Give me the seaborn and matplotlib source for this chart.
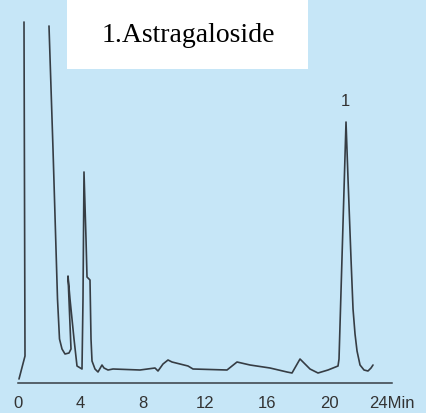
import matplotlib.pyplot as plt
import pandas as pd
import seaborn as sns
from matplotlib.patches import Rectangle

# retention time (min) and detector response (arbitrary units)
seg_a_time = [0.064, 0.449, 0.385]
seg_a_resp = [4, 27, 361]

seg_b_time = [1.989, 2.246, 2.535, 2.663, 2.824, 3.016, 3.273, 3.401, 3.209, 3.337,
              3.594, 3.786, 4.107, 4.171, 4.235, 4.364, 4.428, 4.620, 4.685, 4.749,
              4.941, 5.134, 5.390, 5.519, 5.776, 6.096, 7.829, 8.792, 8.984, 9.305,
              9.626, 9.883, 10.396, 10.909, 11.230, 13.412, 14.054, 14.888, 16.172,
              17.263, 17.583, 18.097, 18.738, 19.252, 19.894, 20.536, 20.600, 21.049,
              21.178, 21.370, 21.499, 21.627, 21.756, 21.948, 22.204, 22.460, 22.653,
              22.781]
seg_b_resp = [357, 234, 84, 44, 34, 29, 30, 34, 107, 84,
              44, 17, 14, 84, 211, 144, 106, 103, 44, 22,
              14, 11, 18, 15, 13, 14, 13, 15, 12, 19,
              23, 21, 19, 17, 14, 13, 21, 18, 15,
              11, 10, 24, 14, 10, 13, 17, 24, 261,
              204, 124, 74, 49, 32, 18, 13, 12, 15,
              18]

xticks = [0, 4, 8, 12, 16, 20, 24]
xtick_labels = ["0", "4", "8", "12", "16", "20", "24Min"]

peak_label = "1"
peak_time = 20.98
peak_label_resp = 282
legend_text = "1.Astragaloside"

bg = "#c6e6f7"
ink = "#363d44"

df = pd.concat([
    pd.DataFrame({"time": seg_a_time, "resp": seg_a_resp, "seg": 0}),
    pd.DataFrame({"time": seg_b_time, "resp": seg_b_resp, "seg": 1}),
])

sns.set_style("white")
fig = plt.figure(figsize=(4.26, 4.14), dpi=100, facecolor=bg)
ax = fig.add_axes([0, 0, 1, 1])
ax.set_facecolor(bg)

sns.lineplot(data=df, x="time", y="resp", units="seg", estimator=None, sort=False,
             color=ink, linewidth=1.2, ax=ax)

px_per_min = 374 / 24
ax.set_xlim(-18 / px_per_min, (426 - 18) / px_per_min)
ax.set_ylim(-30, 384)

for side in ["top", "left", "right"]:
    ax.spines[side].set_visible(False)
ax.spines["bottom"].set_position(("data", 0))
ax.spines["bottom"].set_bounds(0, 24)
ax.spines["bottom"].set_color(ink)
ax.spines["bottom"].set_linewidth(1.1)

ax.set_xticks(xticks)
ax.set_xticklabels(xtick_labels, fontfamily="Liberation Sans", fontsize=12, color="#333333")
ax.tick_params(axis="x", direction="out", length=7, width=1.1, color=ink, pad=2)
ax.set_yticks([])
ax.set_xlabel("")
ax.set_ylabel("")

ax.text(peak_time, peak_label_resp, peak_label, ha="center", va="center",
        fontfamily="Liberation Sans", fontsize=12, color="#333333")

fig.patches.append(Rectangle((67 / 426, 1 - 70 / 414), (308 - 67) / 426, 70 / 414,
                             transform=fig.transFigure, facecolor="white",
                             edgecolor="none", zorder=5))
fig.text(188 / 426, 1 - 36 / 414, legend_text, ha="center", va="center",
         fontfamily="Liberation Serif", fontsize=20, color="black", zorder=6)

fig.savefig("out.png", dpi=100, facecolor=bg)
